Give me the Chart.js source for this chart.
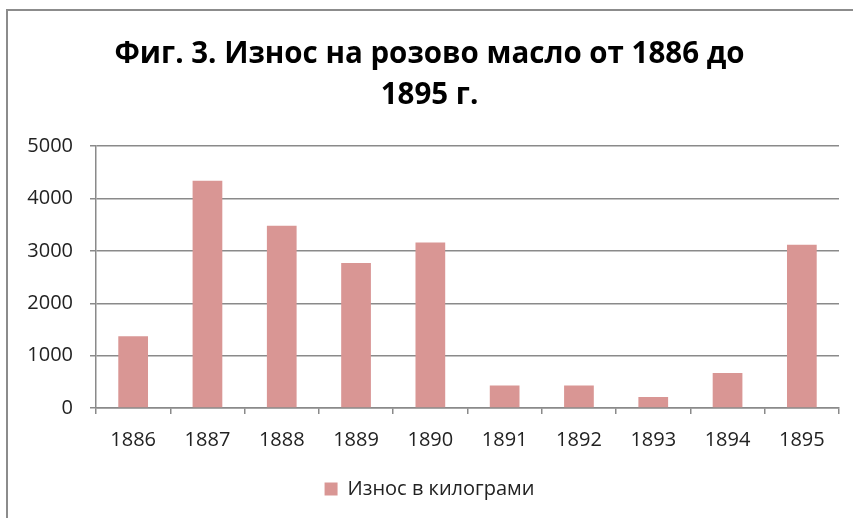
<!DOCTYPE html>
<html>
<head>
<meta charset="utf-8">
<script src="https://cdn.jsdelivr.net/npm/chart.js@4"></script>
<style>
    body { margin: 0; background: #fff; overflow: hidden; }
    #ramka {
        position: absolute; left: 6px; top: 9px;
        width: 900px; height: 600px;
        border: 2px solid #8c8c8c;
    }
    #kutija { position: absolute; left: 0; top: 0; width: 853px; height: 518px; }
</style>
</head>
<body>
<div id="ramka"></div>
<div id="kutija"><canvas id="grafik" width="853" height="518"></canvas></div>
<script>
// godini i iznos (kg)
const godini = ['1886', '1887', '1888', '1889', '1890', '1891', '1892', '1893', '1894', '1895']
const iznos = [1370, 4340, 3480, 2770, 3160, 430, 430, 210, 670, 3120]
const zaglavie = ['Фиг. 3. Износ на розово масло от 1886 до', '1895 г.']
const imeSerija = 'Износ в килограми'

const sivo = '#8a8a8a'
const shrift = 'Open Sans'

const ctx = document.getElementById('grafik').getContext('2d')
const grafik = new Chart(ctx, {
    type: 'bar',
    data: {
        labels: godini,
        datasets: [{
            label: imeSerija,
            data: iznos,
            backgroundColor: '#d99694',
            borderWidth: 0,
            barPercentage: 0.4,
            categoryPercentage: 1
        }]
    },
    options: {
        responsive: false,
        animation: false,
        layout: { padding: { left: 20, right: 14, top: 0, bottom: 9 } },
        plugins: {
            tooltip: { enabled: false },
            title: {
                display: true,
                text: zaglavie,
                color: '#000',
                font: { family: shrift, size: 29.5, weight: 'bold', lineHeight: 1.36 },
                padding: { top: 35, bottom: 31 }
            },
            legend: {
                position: 'bottom',
                labels: {
                    color: '#222',
                    font: { family: shrift, size: 20 },
                    boxWidth: 13,
                    boxHeight: 13,
                    padding: 10
                }
            }
        },
        scales: {
            x: {
                grid: {
                    display: true,
                    drawOnChartArea: false,
                    color: sivo,
                    lineWidth: 1.5,
                    tickLength: 6
                },
                border: { color: sivo, width: 1.5 },
                ticks: { color: '#222', font: { family: shrift, size: 20 }, padding: 14, maxRotation: 0 },
                afterFit: (s) => { s.height = 61 }
            },
            y: {
                min: 0,
                max: 5000,
                ticks: {
                    stepSize: 1000,
                    color: '#222',
                    font: { family: shrift, size: 20 },
                    padding: 17,
                    callback: (v) => String(v)
                },
                grid: { color: sivo, lineWidth: 1.5, tickLength: 6 },
                border: { color: sivo, width: 1.5 },
                afterFit: (s) => { s.width = 76 }
            }
        }
    }
})
</script>
</body>
</html>
